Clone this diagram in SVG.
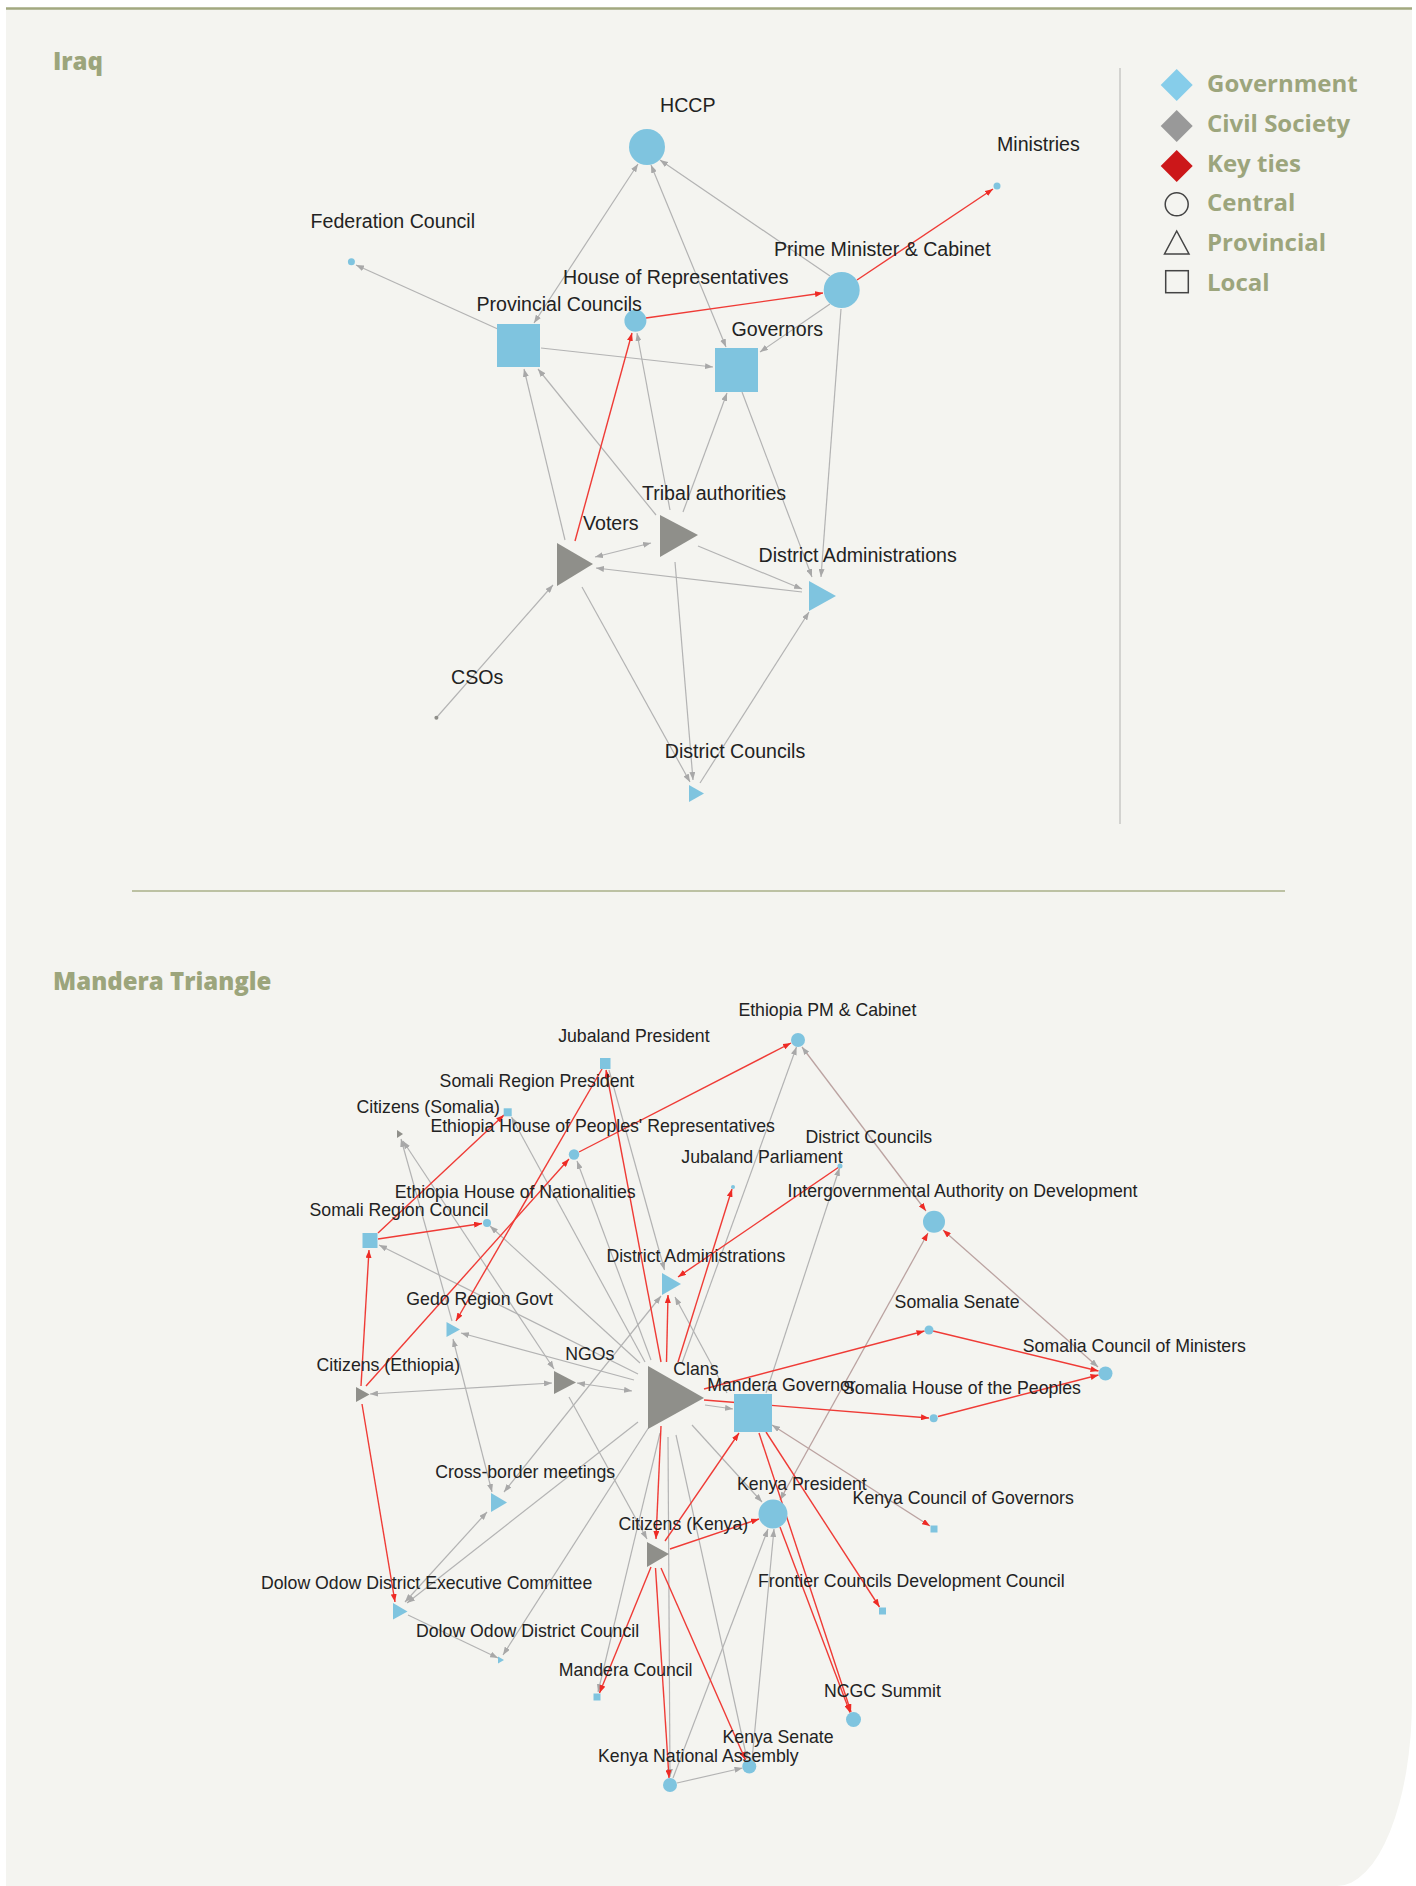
<svg xmlns="http://www.w3.org/2000/svg" width="1416" height="1886" viewBox="0 0 1416 1886">
<style>
.e{stroke:#b3b3b3;stroke-width:1.2;fill:none}
.r{stroke:#ef3b36;stroke-width:1.4;fill:none}
.b{stroke:#bba3a1;stroke-width:1.3;fill:none}
.ga{marker-end:url(#ag)}
.gb{marker-start:url(#ag);marker-end:url(#ag)}
.ra{marker-end:url(#ar)}
.ba{marker-start:url(#ag);marker-end:url(#ar)}
.gov{fill:#7fc4df}
.civ{fill:#8f8f8a}
.lbl{font-family:"Liberation Sans",Arial,sans-serif;fill:#222}
.iq .lbl{font-size:19.6px}
.md .lbl{font-size:17.7px}
.ttl{font-family:"Open Sans","Liberation Sans",sans-serif;font-weight:800;font-size:24px;fill:#9ca57c}
.leg{font-family:"Open Sans","Liberation Sans",sans-serif;font-weight:700;font-size:24px;fill:#9ca57c}
</style>
<defs>
<marker id="ag" viewBox="0 0 8 6" refX="8" refY="3" markerWidth="8" markerHeight="6" markerUnits="userSpaceOnUse" orient="auto-start-reverse"><path d="M0,0 L8,3 L0,6 z" fill="#a8a8a8"/></marker>
<marker id="ar" viewBox="0 0 8 6" refX="8" refY="3" markerWidth="8" markerHeight="6" markerUnits="userSpaceOnUse" orient="auto-start-reverse"><path d="M0,0 L8,3 L0,6 z" fill="#ee2b25"/></marker>
</defs>

<!-- page and panel -->
<rect x="0" y="0" width="1416" height="1886" fill="#ffffff"/>
<path d="M6,8 H1412 V1700 A75,186 0 0 1 1337,1886 H6 Z" fill="#f4f4f0"/>
<line x1="6" y1="8.5" x2="1412" y2="8.5" stroke="#a2a87f" stroke-width="2.5"/>
<line x1="132" y1="891" x2="1285" y2="891" stroke="#aab08a" stroke-width="1.5"/>
<line x1="1120" y1="68" x2="1120" y2="824" stroke="#c9c9c6" stroke-width="1.5"/>

<text class="ttl" x="53" y="70">Iraq</text>
<text class="ttl" x="53" y="990">Mandera Triangle</text>

<!-- legend -->
<g id="legend">
<g id="leg-government"><polygon points="1176.7,69 1192.7,85 1176.7,101 1160.7,85" fill="#86cdea"/><text class="leg" x="1207" y="91.7">Government</text></g>
<g id="leg-civil"><polygon points="1176.7,110 1192.7,126 1176.7,142 1160.7,126" fill="#999999"/><text class="leg" x="1207" y="131.7">Civil Society</text></g>
<g id="leg-key"><polygon points="1176.7,150 1192.7,166 1176.7,182 1160.7,166" fill="#cc1719"/><text class="leg" x="1207" y="171.5">Key ties</text></g>
<g id="leg-central"><circle cx="1176.7" cy="204.3" r="11.5" fill="none" stroke="#444" stroke-width="1.5"/><text class="leg" x="1207" y="211.3">Central</text></g>
<g id="leg-provincial"><polygon points="1176.7,231 1189,254 1164.5,254" fill="none" stroke="#444" stroke-width="1.5"/><text class="leg" x="1207" y="251.3">Provincial</text></g>
<g id="leg-local"><rect x="1165.7" y="270.7" width="22.6" height="22" fill="none" stroke="#444" stroke-width="1.5"/><text class="leg" x="1207" y="291.3">Local</text></g>
</g>

<!-- Iraq network -->
<g class="iq">
<g id="iq-edges">
<line class="e ga" x1="500" y1="330" x2="356" y2="265"/>
<line class="e gb" x1="638" y1="164" x2="534" y2="323"/>
<line class="e gb" x1="651" y1="165" x2="726" y2="347"/>
<line class="e ga" x1="830" y1="276" x2="660" y2="160"/>
<line class="e ga" x1="830" y1="304" x2="760" y2="352"/>
<line class="e ga" x1="541" y1="348" x2="713" y2="367"/>
<line class="e ga" x1="841" y1="309" x2="821" y2="577"/>
<line class="e ga" x1="742" y1="392" x2="812" y2="577"/>
<line class="e ga" x1="565" y1="540" x2="524" y2="369"/>
<line class="e ga" x1="656" y1="515" x2="538" y2="369"/>
<line class="e ga" x1="670" y1="510" x2="637" y2="333"/>
<line class="e ga" x1="683" y1="512" x2="727" y2="393"/>
<line class="e gb" x1="595" y1="557" x2="651" y2="543"/>
<line class="e ga" x1="802" y1="592" x2="596" y2="568"/>
<line class="e ga" x1="698" y1="546" x2="802" y2="589"/>
<line class="e ga" x1="582" y1="587" x2="690" y2="782"/>
<line class="e ga" x1="675" y1="562" x2="693" y2="780"/>
<line class="e ga" x1="700" y1="783" x2="809" y2="612"/>
<line class="e ga" x1="437" y1="717" x2="553" y2="585"/>
<line class="r ra" x1="646" y1="318" x2="823" y2="293"/>
<line class="r ra" x1="857" y1="280" x2="993" y2="189"/>
<line class="r ra" x1="575" y1="541" x2="632" y2="333"/>
</g>
<g id="iq-hccp"><circle class="gov" cx="647" cy="147" r="18"/><text class="lbl" x="660" y="111.7">HCCP</text></g>
<g id="iq-ministries"><circle class="gov" cx="997" cy="186" r="3.5"/><text class="lbl" x="997" y="151">Ministries</text></g>
<g id="iq-federation"><circle class="gov" cx="351.4" cy="261.7" r="3.5"/><text class="lbl" x="310.6" y="228.3">Federation Council</text></g>
<g id="iq-pm"><circle class="gov" cx="841.7" cy="290" r="18"/><text class="lbl" x="774" y="255.7">Prime Minister &amp; Cabinet</text></g>
<g id="iq-hor"><circle class="gov" cx="635.4" cy="320.8" r="11"/><text class="lbl" x="563" y="284">House of Representatives</text></g>
<g id="iq-provincial"><rect class="gov" x="497" y="324" width="43" height="43"/><text class="lbl" x="476.4" y="311">Provincial Councils</text></g>
<g id="iq-governors"><rect class="gov" x="715" y="348" width="43" height="44"/><text class="lbl" x="731.5" y="336">Governors</text></g>
<g id="iq-tribal"><polygon class="civ" points="660,515 660,557 698,535"/><text class="lbl" x="642" y="500">Tribal authorities</text></g>
<g id="iq-voters"><polygon class="civ" points="557,543 557,586 593,564"/><text class="lbl" x="583" y="530">Voters</text></g>
<g id="iq-da"><polygon class="gov" points="809,581 809,611 836,596"/><text class="lbl" x="758.6" y="561.7">District Administrations</text></g>
<g id="iq-csos"><circle class="civ" cx="436.4" cy="717.7" r="2"/><text class="lbl" x="451" y="684">CSOs</text></g>
<g id="iq-dc"><polygon class="gov" points="689,785 689,802 704,793.5"/><text class="lbl" x="664.8" y="758.3">District Councils</text></g>
</g>

<!-- Mandera Triangle network -->
<g class="md">
<g id="md-edges">
<line class="e ga" x1="645" y1="1362" x2="511.5" y2="1117"/>
<line class="e ga" x1="651" y1="1360" x2="577" y2="1161"/>
<line class="e ga" x1="609" y1="1070" x2="664.5" y2="1270"/>
<line class="e ga" x1="682" y1="1363" x2="796.5" y2="1047"/>
<line class="e ga" x1="640" y1="1363" x2="490" y2="1226"/>
<line class="e ga" x1="638" y1="1374" x2="379" y2="1245"/>
<line class="e ga" x1="634" y1="1380" x2="461" y2="1333"/>
<line class="e gb" x1="577" y1="1383" x2="632" y2="1391"/>
<line class="e gb" x1="370" y1="1394" x2="552" y2="1383"/>
<line class="e ga" x1="452" y1="1321" x2="401" y2="1139"/>
<line class="e gb" x1="492" y1="1492" x2="453" y2="1339"/>
<line class="e gb" x1="403" y1="1141" x2="554" y2="1369"/>
<line class="e gb" x1="661" y1="1296" x2="504" y2="1492"/>
<line class="e ga" x1="569" y1="1397" x2="647" y2="1539"/>
<line class="e ga" x1="638" y1="1422" x2="407" y2="1603"/>
<line class="e gb" x1="487" y1="1512" x2="405" y2="1602"/>
<line class="e ga" x1="408" y1="1615" x2="498" y2="1658"/>
<line class="e ga" x1="649" y1="1427" x2="503" y2="1655"/>
<line class="e ga" x1="660" y1="1433" x2="598" y2="1692"/>
<line class="e ga" x1="705" y1="1405" x2="733" y2="1409"/>
<line class="e ga" x1="727" y1="1393" x2="675" y2="1297"/>
<line class="e ga" x1="766" y1="1393" x2="839.5" y2="1168"/>
<line class="e ga" x1="692" y1="1425" x2="762" y2="1502"/>
<line class="e ga" x1="677" y1="1783" x2="742.5" y2="1768"/>
<line class="e ga" x1="673" y1="1778" x2="768" y2="1529"/>
<line class="e ga" x1="752" y1="1760" x2="774" y2="1529"/>
<line class="e ga" x1="668" y1="1437" x2="670" y2="1777"/>
<line class="e ga" x1="676" y1="1435" x2="747" y2="1759"/>
<line class="b ba" x1="802" y1="1047" x2="926" y2="1211"/>
<line class="b ba" x1="1098" y1="1367" x2="943" y2="1230"/>
<line class="b ba" x1="780" y1="1500" x2="928" y2="1233"/>
<line class="b ba" x1="772" y1="1425" x2="930" y2="1526"/>
<line class="r ra" x1="378" y1="1233" x2="504" y2="1115"/>
<line class="r ra" x1="378" y1="1239" x2="482" y2="1223.5"/>
<line class="r ra" x1="361" y1="1386" x2="369" y2="1250"/>
<line class="r ra" x1="366" y1="1386" x2="569" y2="1159"/>
<line class="r ra" x1="602" y1="1069" x2="456" y2="1321"/>
<line class="r ra" x1="661" y1="1362" x2="606" y2="1070"/>
<line class="r ra" x1="579" y1="1152" x2="791" y2="1043"/>
<line class="r ra" x1="666.5" y1="1362" x2="668" y2="1295"/>
<line class="r ra" x1="678" y1="1362" x2="732" y2="1189"/>
<line class="r ra" x1="839" y1="1167" x2="678" y2="1277"/>
<line class="r ra" x1="661" y1="1426" x2="656" y2="1539"/>
<line class="r ra" x1="665" y1="1541" x2="739" y2="1433"/>
<line class="r ra" x1="670" y1="1549" x2="759" y2="1519"/>
<line class="r ra" x1="651" y1="1567" x2="599.5" y2="1693"/>
<line class="r ra" x1="362" y1="1404" x2="395" y2="1602"/>
<line class="r ra" x1="704" y1="1400" x2="929" y2="1418"/>
<line class="r ra" x1="704" y1="1389" x2="924.5" y2="1331"/>
<line class="r ra" x1="933" y1="1331" x2="1098.5" y2="1371"/>
<line class="r ra" x1="938" y1="1416.5" x2="1098.5" y2="1375"/>
<line class="r ra" x1="766" y1="1432" x2="879.5" y2="1607"/>
<line class="r ra" x1="759" y1="1433" x2="851" y2="1712"/>
<line class="r ra" x1="780" y1="1527" x2="850" y2="1712.5"/>
<line class="r ra" x1="661" y1="1568" x2="745.5" y2="1760"/>
<line class="r ra" x1="655.5" y1="1568" x2="669" y2="1778"/>
</g>
<g id="md-epm"><circle class="gov" cx="798" cy="1040" r="7"/><text class="lbl" x="738.4" y="1016">Ethiopia PM &amp; Cabinet</text></g>
<g id="md-jp"><rect class="gov" x="600" y="1058" width="10.5" height="11"/><text class="lbl" x="558.2" y="1041.7">Jubaland President</text></g>
<g id="md-srp"><rect class="gov" x="503.7" y="1108.3" width="8" height="8"/><text class="lbl" x="439.6" y="1087.3">Somali Region President</text></g>
<g id="md-citsom"><polygon class="civ" points="397,1130 397,1138 403,1134"/><text class="lbl" x="356.5" y="1112.7">Citizens (Somalia)</text></g>
<g id="md-ehopr"><circle class="gov" cx="574" cy="1154.5" r="5.2"/><text class="lbl" x="430.4" y="1131.7">Ethiopia House of Peoples' Representatives</text></g>
<g id="md-dc"><circle class="gov" cx="840" cy="1166" r="2.5"/><text class="lbl" x="805.4" y="1143.3">District Councils</text></g>
<g id="md-jpar"><circle class="gov" cx="733" cy="1187" r="2"/><text class="lbl" x="681.3" y="1163.3">Jubaland Parliament</text></g>
<g id="md-igad"><circle class="gov" cx="934" cy="1221.7" r="11"/><text class="lbl" x="787.5" y="1196.7">Intergovernmental Authority on Development</text></g>
<g id="md-ehon"><circle class="gov" cx="487" cy="1223" r="4"/><text class="lbl" x="394.8" y="1198.3">Ethiopia House of Nationalities</text></g>
<g id="md-src"><rect class="gov" x="362.5" y="1233" width="15" height="15"/><text class="lbl" x="309.5" y="1216">Somali Region Council</text></g>
<g id="md-da"><polygon class="gov" points="662,1273 662,1295 681,1284"/><text class="lbl" x="606.4" y="1261.7">District Administrations</text></g>
<g id="md-gedo"><polygon class="gov" points="446.5,1322 446.5,1337 460,1329.5"/><text class="lbl" x="406.3" y="1305">Gedo Region Govt</text></g>
<g id="md-ss"><circle class="gov" cx="929" cy="1330" r="4.5"/><text class="lbl" x="894.6" y="1308.3">Somalia Senate</text></g>
<g id="md-scom"><circle class="gov" cx="1105.5" cy="1373.5" r="7"/><text class="lbl" x="1022.8" y="1351.7">Somalia Council of Ministers</text></g>
<g id="md-ngos"><polygon class="civ" points="554,1371 554,1394 576,1382.5"/><text class="lbl" x="565.3" y="1360">NGOs</text></g>
<g id="md-ce"><polygon class="civ" points="356,1387 356,1402 369.5,1394.5"/><text class="lbl" x="316.5" y="1370.7">Citizens (Ethiopia)</text></g>
<g id="md-clans"><polygon class="civ" points="648,1366 648,1429 704,1398"/><text class="lbl" x="673.3" y="1375">Clans</text></g>
<g id="md-mg"><rect class="gov" x="734" y="1394" width="38" height="38"/><text class="lbl" x="707.3" y="1391">Mandera Governor</text></g>
<g id="md-shop"><circle class="gov" cx="933.7" cy="1418.3" r="4"/><text class="lbl" x="843" y="1394.3">Somalia House of the Peoples</text></g>
<g id="md-cbm"><polygon class="gov" points="491,1493 491,1512 507,1502.5"/><text class="lbl" x="435.2" y="1478.3">Cross-border meetings</text></g>
<g id="md-kp"><circle class="gov" cx="773" cy="1514" r="14.5"/><text class="lbl" x="737" y="1490">Kenya President</text></g>
<g id="md-kcog"><rect class="gov" x="930.5" y="1525.5" width="7" height="7"/><text class="lbl" x="852.6" y="1504">Kenya Council of Governors</text></g>
<g id="md-ck"><polygon class="civ" points="647,1542 647,1567 669,1554"/><text class="lbl" x="618.4" y="1530">Citizens (Kenya)</text></g>
<g id="md-fcdc"><rect class="gov" x="879" y="1607.5" width="7" height="7"/><text class="lbl" x="758" y="1587.3">Frontier Councils Development Council</text></g>
<g id="md-doec"><polygon class="gov" points="393,1603 393,1619.5 407.5,1611.5"/><text class="lbl" x="261" y="1589.3">Dolow Odow District Executive Committee</text></g>
<g id="md-dodc"><polygon class="gov" points="498,1656.5 498,1663.5 504,1660"/><text class="lbl" x="416" y="1636.7">Dolow Odow District Council</text></g>
<g id="md-mc"><rect class="gov" x="593.5" y="1693.5" width="7" height="7"/><text class="lbl" x="558.8" y="1676">Mandera Council</text></g>
<g id="md-ncgc"><circle class="gov" cx="853.5" cy="1719.5" r="7.5"/><text class="lbl" x="823.9" y="1696.7">NCGC Summit</text></g>
<g id="md-ks"><circle class="gov" cx="749.3" cy="1766.5" r="7"/><text class="lbl" x="722.5" y="1742.7">Kenya Senate</text></g>
<g id="md-kna"><circle class="gov" cx="670" cy="1785" r="7"/><text class="lbl" x="598" y="1761.7">Kenya National Assembly</text></g>
</g>
</svg>
